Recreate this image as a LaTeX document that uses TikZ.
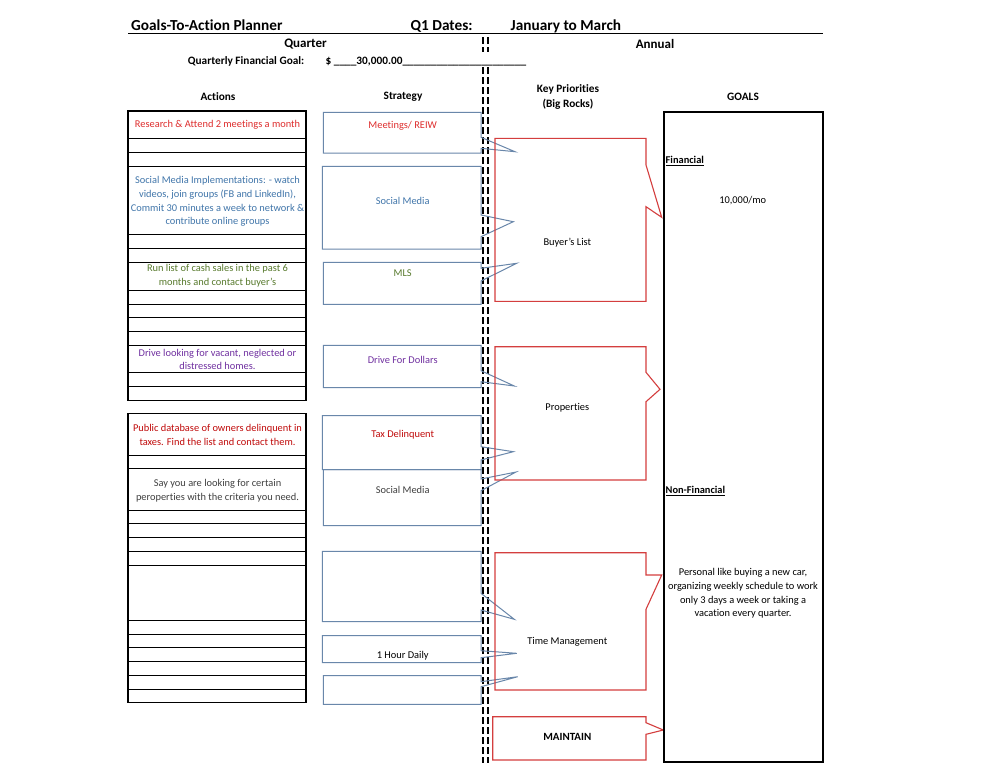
\documentclass[tikz,border=0pt]{standalone}
\usepackage{fontspec}
\setmainfont{Carlito}[Ligatures={TeX,CommonOff}]
\definecolor{redA}{RGB}{222,45,45}
\definecolor{blueA}{RGB}{65,118,170}
\definecolor{greenA}{RGB}{88,122,45}
\definecolor{purpleA}{RGB}{112,48,160}
\definecolor{darkredA}{RGB}{192,10,10}
\definecolor{grayA}{RGB}{64,64,64}
\definecolor{stratC}{RGB}{105,135,170}
\definecolor{rockC}{RGB}{212,62,62}
\newcommand\mystrat[8]{% left, top, bottom, b1, tipx, tipy, b2, right
  \draw[stratline] (#1,#2) -- (#8,#2) -- (#8,#4) -- (#5,#6) -- (#8,#7) -- (#8,#3) -- (#1,#3) -- cycle;}
\begin{document}
\begin{tikzpicture}[x=1pt,y=-1pt,
  sm/.style={font=\fontsize{10.4}{13.6}\selectfont, align=center, inner sep=0pt},
  smb/.style={font=\fontsize{11.3}{13.6}\selectfont\bfseries, align=center, inner sep=0pt},
  gb/.style={font=\fontsize{10.4}{13.6}\selectfont\bfseries, inner sep=0pt},
  big/.style={font=\fontsize{15.3}{18}\selectfont\bfseries, inner sep=0pt},
  mid/.style={font=\fontsize{13}{16}\selectfont\bfseries, inner sep=0pt},
  tbl/.style={line width=1.3pt, black},
  stratline/.style={line width=1pt, stratC, line join=miter},
  rockline/.style={line width=1.1pt, rockC, line join=miter},
  dashline/.style={line width=2pt, black, dash pattern=on 7pt off 3pt}]
\useasboundingbox (0,0) rectangle (995,763);
\fill[white] (0,0) rectangle (995,763);

% header
\node[big, anchor=base west] (title) at (131,30.5) {Goals-To-Action Planner};
\node[big, anchor=base west] (qd) at (410.5,30.5) {Q1 Dates:};
\node[big, anchor=base west] (jm) at (510.5,30.5) {January to March};
\draw[line width=1pt] (128,33.5) coordinate (ul1) -- (822.5,33.5) coordinate (ul2);
\node[mid] (quarter) at (305.5,44) {Quarter};
\node[mid] (annual) at (655,44) {Annual};
\node[smb, anchor=base east] (qfg) at (304.5,64) {Quarterly Financial Goal:};
\node[smb, anchor=base west] (amt) at (325.5,64) {\$ \_\_\_\_30,000.00\_\_\_\_\_\_\_\_\_\_\_\_\_\_\_\_\_\_\_\_\_\_};

% dashed divider
\draw[dashline] (482.5,37) coordinate (d1a) -- (482.5,52) coordinate (d1b);
\draw[dashline] (487.5,37) coordinate (d2a) -- (487.5,52) coordinate (d2b);
\draw[dashline] (482.5,67) coordinate (d3a) -- (482.5,763) coordinate (d3b);
\draw[dashline] (487.5,67) coordinate (d4a) -- (487.5,763) coordinate (d4b);

% column headers
\node[smb] (hact) at (218,97) {Actions};
\node[smb] (hstr) at (403,97) {Strategy};
\node[smb, font=\fontsize{11.3}{15}\selectfont\bfseries] (hkp) at (568,97) {Key Priorities\\(Big Rocks)};
\node[smb] (hgoal) at (743,97) {GOALS};

% actions table 1
\draw[tbl] (128,111) rectangle (306,400.3);
\foreach \yy in {138.3,152.3,166.3,234.3,248.3,262.3,290.3,304.3,317.3,331.3,345.3,372.3,386.3}
  \draw[tbl] (128,\yy) -- (306,\yy);
% actions table 2
\draw[tbl] (128,413.3) rectangle (306,702.3);
\foreach \yy in {455.3,468.3,510.3,523.7,537.7,551.3,565.3,620.3,634.3,647.7,661.7,675.7,689.7}
  \draw[tbl] (128,\yy) -- (306,\yy);

\node[sm, text=redA] (a1) at (217.5,125) {Research \& Attend 2 meetings a month};
\node[sm, text=blueA] (a2) at (217.5,201.5) {Social Media Implementations: - watch\\videos, join groups (FB and LinkedIn),\\Commit 30 minutes a week to network \&\\contribute online groups};
\node[sm, text=greenA] (a3) at (217.5,276) {Run list of cash sales in the past 6\\months and contact buyer's};
\node[sm, text=purpleA] (a4) at (217.5,359.5) {Drive looking for vacant, neglected or\\distressed homes.};
\node[sm, text=darkredA] (a5) at (217.5,435) {Public database of owners delinquent in\\taxes. Find the list and contact them.};
\node[sm, text=grayA] (a6) at (217.5,490.5) {Say you are looking for certain\\peroperties with the criteria you need.};

% strategy callouts
\mystrat{323.3}{112.3}{153}{137.3}{515}{151.7}{148.3}{481}
\mystrat{322.3}{166.3}{249}{215}{513.3}{221.7}{236.7}{481}
\mystrat{323.3}{262.3}{304.3}{268.3}{516.7}{263.3}{281}{481}
\mystrat{323.3}{345.3}{387.7}{370.7}{514.3}{386}{381.7}{481}
\mystrat{322.3}{415.7}{469.7}{446.7}{513.3}{451.7}{460}{481}
\mystrat{323.3}{469.7}{525.7}{479}{516}{472}{490.7}{481}
\mystrat{322.3}{551.3}{621.7}{593.3}{514.3}{619.3}{610}{481}
\mystrat{322.3}{635.7}{662.7}{650.7}{516.7}{653.3}{657.7}{481}
\mystrat{323.3}{675.7}{704.3}{681.7}{517.7}{676.7}{686.7}{481}

\node[sm, text=redA] (s1) at (402.7,125.7) {Meetings/ REIW};
\node[sm, text=blueA] (s2) at (402.7,200.7) {Social Media};
\node[sm, text=greenA] (s3) at (402.7,272.7) {MLS};
\node[sm, text=purpleA] (s4) at (402.7,360) {Drive For Dollars};
\node[sm, text=darkredA] (s5) at (402.7,435) {Tax Delinquent};
\node[sm, text=grayA] (s6) at (402.7,490) {Social Media};
\node[sm, text=black] (s8) at (402.7,656) {1 Hour Daily};

% key priorities (red callouts)
\draw[rockline] (495,138.3) -- (646,138.3) -- (646,165) -- (661.7,217.3) -- (646,206.7) -- (646,301.3) -- (495,301.3) -- cycle;
\draw[rockline] (495,346.7) -- (646,346.7) -- (646,372.3) -- (660,389.3) -- (646,401.7) -- (646,480) -- (495,480) -- cycle;
\draw[rockline] (495,552.7) -- (646,552.7) -- (646,575) -- (661.7,575) -- (646,609.3) -- (646,690) -- (495,690) -- cycle;
\draw[rockline] (492.7,716.7) -- (646,716.7) -- (646,722.7) -- (663.3,730) -- (646,734.3) -- (646,760) -- (492.7,760) -- cycle;

\node[sm] (k1) at (567.3,242.7) {Buyer's List};
\node[sm] (k2) at (567.3,408) {Properties};
\node[sm] (k3) at (567.3,641.7) {Time Management};
\node[smb, font=\fontsize{11}{13}\selectfont\bfseries] (k4) at (567.3,737.3) {MAINTAIN};

% goals box
\draw[line width=2pt, black] (664,111.7) rectangle (822.7,762);
\node[gb, anchor=base west] (gf) at (665.5,163.5) {\underline{Financial}};
\node[sm] (gfv) at (742.7,201) {10,000/mo};
\node[gb, anchor=base west] (gn) at (665.5,493.5) {\underline{Non-Financial}};
\node[sm] (gnv) at (743,593.5) {Personal like buying a new car,\\organizing weekly schedule to work\\only 3 days a week or taking a\\vacation every quarter.};
\end{tikzpicture}
\end{document}
